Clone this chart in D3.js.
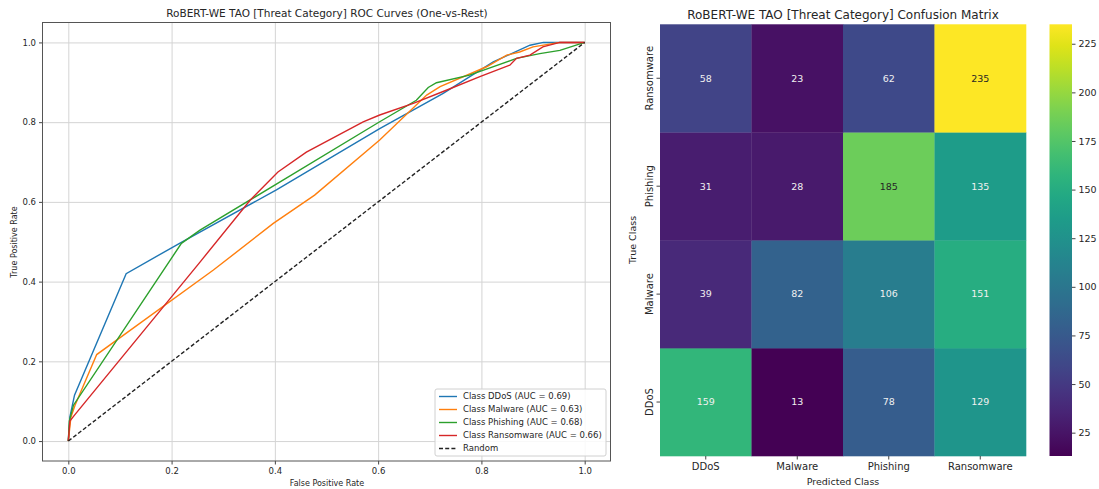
<!DOCTYPE html>
<html>
<head>
<meta charset="utf-8">
<script src="https://cdn.jsdelivr.net/npm/d3@7"></script>
<style>
  body { margin: 0; background: #fff; }
  text { font-family: "DejaVu Sans", sans-serif; fill: #262626; }
</style>
</head>
<body>
<div id="chart"></div>
<script>
// ROC curve points
var ddosFpr = [0, 0.003, 0.012, 0.112, 0.218, 0.403, 0.603, 0.726, 0.823, 0.894, 0.92, 1.0];
var ddosTpr = [0, 0.06, 0.115, 0.42, 0.498, 0.63, 0.784, 0.872, 0.951, 0.993, 1.0, 1.0];

var malwareFpr = [0, 0.005, 0.013, 0.055, 0.281, 0.397, 0.477, 0.603, 0.694, 0.72, 0.81, 0.849, 0.874, 0.9, 0.952, 1.0];
var malwareTpr = [0, 0.06, 0.09, 0.217, 0.429, 0.546, 0.617, 0.755, 0.868, 0.889, 0.939, 0.968, 0.976, 0.989, 1.0, 1.0];

var phishingFpr = [0, 0.002, 0.01, 0.219, 0.255, 0.603, 0.674, 0.697, 0.713, 0.777, 0.868, 0.913, 0.952, 1.0];
var phishingTpr = [0, 0.05, 0.09, 0.496, 0.529, 0.801, 0.855, 0.887, 0.899, 0.918, 0.96, 0.972, 0.98, 1.0];

var ransomFpr = [0, 0.003, 0.012, 0.255, 0.352, 0.406, 0.461, 0.571, 0.603, 0.668, 0.732, 0.797, 0.855, 0.868, 0.894, 0.919, 0.952, 1.0];
var ransomTpr = [0, 0.05, 0.065, 0.449, 0.604, 0.675, 0.725, 0.801, 0.818, 0.847, 0.88, 0.914, 0.943, 0.96, 0.968, 0.989, 1.0, 1.0];

var rocNames = ["DDoS", "Malware", "Phishing", "Ransomware"];
var rocAuc = ["0.69", "0.63", "0.68", "0.66"];
var rocColors = ["#1f77b4", "#ff7f0e", "#2ca02c", "#d62728"];
var rocTicks = [0, 0.2, 0.4, 0.6, 0.8, 1.0];

// confusion matrix, rows = true class, cols = predicted class
var classes = ["DDoS", "Malware", "Phishing", "Ransomware"];
var matrix = [
  [159, 13, 78, 129],
  [39, 82, 106, 151],
  [31, 28, 185, 135],
  [58, 23, 62, 235]
];
var cbarTicks = [25, 50, 75, 100, 125, 150, 175, 200, 225];

var svg = d3.select("#chart").append("svg")
  .attr("width", 1099)
  .attr("height", 489);

// ---------- left: ROC curves ----------
var x = d3.scaleLinear().domain([-0.05, 1.05]).range([42.5, 610.5]);
var y = d3.scaleLinear().domain([-0.05, 1.05]).range([461, 22.5]);

var roc = svg.append("g");

// grid
roc.append("g")
  .attr("transform", "translate(0,461)")
  .call(d3.axisBottom(x).tickValues(rocTicks).tickSize(-438.5).tickFormat(""))
  .call(function(g) { g.select(".domain").remove(); g.selectAll("line").attr("stroke", "#d4d4d4"); });
roc.append("g")
  .attr("transform", "translate(42.5,0)")
  .call(d3.axisLeft(y).tickValues(rocTicks).tickSize(-568).tickFormat(""))
  .call(function(g) { g.select(".domain").remove(); g.selectAll("line").attr("stroke", "#d4d4d4"); });

// axes
var xAx = roc.append("g")
  .attr("transform", "translate(0,461)")
  .call(d3.axisBottom(x).tickValues(rocTicks).tickSize(3.5).tickPadding(3).tickSizeOuter(0).tickFormat(d3.format(".1f")));
var yAx = roc.append("g")
  .attr("transform", "translate(42.5,0)")
  .call(d3.axisLeft(y).tickValues(rocTicks).tickSize(3.5).tickPadding(3).tickSizeOuter(0).tickFormat(d3.format(".1f")));
[xAx, yAx].forEach(function(a) {
  a.selectAll("text").style("font-size", "8.5px").style("font-family", "DejaVu Sans").attr("fill", "#262626");
  a.selectAll("line").attr("stroke", "#444");
  a.select(".domain").remove();
});

roc.append("rect")
  .attr("x", 42.5).attr("y", 22.5).attr("width", 568).attr("height", 438.5)
  .attr("fill", "none").attr("stroke", "#555").attr("stroke-width", 1);

var line = d3.line()
  .x(function(d) { return x(d[0]); })
  .y(function(d) { return y(d[1]); });

var rocSeries = [
  d3.zip(ddosFpr, ddosTpr),
  d3.zip(malwareFpr, malwareTpr),
  d3.zip(phishingFpr, phishingTpr),
  d3.zip(ransomFpr, ransomTpr)
];

rocSeries.forEach(function(s, i) {
  roc.append("path")
    .datum(s)
    .attr("fill", "none")
    .attr("stroke", rocColors[i])
    .attr("stroke-width", 1.4)
    .attr("d", line);
});

roc.append("path")
  .datum([[0, 0], [1, 1]])
  .attr("fill", "none")
  .attr("stroke", "#222")
  .attr("stroke-width", 1.4)
  .attr("stroke-dasharray", "4,2.2")
  .attr("d", line);

roc.append("text")
  .attr("x", 327).attr("y", 17)
  .attr("text-anchor", "middle")
  .style("font-size", "10.5px")
  .text("RoBERT-WE TAO [Threat Category] ROC Curves (One-vs-Rest)");

roc.append("text")
  .attr("x", 327).attr("y", 486)
  .attr("text-anchor", "middle")
  .style("font-size", "8px")
  .text("False Positive Rate");

roc.append("text")
  .attr("transform", "translate(17,242) rotate(-90)")
  .attr("text-anchor", "middle")
  .style("font-size", "8px")
  .text("True Positive Rate");

// legend
var leg = roc.append("g").attr("transform", "translate(435,389)");
leg.append("rect")
  .attr("width", 171).attr("height", 67).attr("rx", 2)
  .attr("fill", "#fff").attr("fill-opacity", 0.85)
  .attr("stroke", "#d0d0d0");
var legItems = rocNames.map(function(n, i) {
  return { label: "Class " + n + " (AUC = " + rocAuc[i] + ")", color: rocColors[i], dash: null };
});
legItems.push({ label: "Random", color: "#222", dash: "4,2.2" });
legItems.forEach(function(it, i) {
  var yy = 7.5 + i * 13;
  leg.append("line")
    .attr("x1", 4).attr("x2", 22).attr("y1", yy).attr("y2", yy)
    .attr("stroke", it.color).attr("stroke-width", 1.4)
    .attr("stroke-dasharray", it.dash);
  leg.append("text")
    .attr("x", 28).attr("y", yy).attr("dy", "0.35em")
    .style("font-size", "8.5px")
    .text(it.label);
});

// ---------- right: confusion matrix ----------
var hm = svg.append("g");
var cx = d3.scaleBand().domain(classes).range([660, 1026]);
var cy = d3.scaleBand().domain(classes.slice().reverse()).range([24.3, 456]);
var color = d3.scaleSequential(d3.interpolateViridis).domain([13, 235]);

function textColor(c) {
  var rgb = d3.rgb(c);
  var lin = [rgb.r, rgb.g, rgb.b].map(function(v) {
    v = v / 255;
    return v <= 0.03928 ? v / 12.92 : Math.pow((v + 0.055) / 1.055, 2.4);
  });
  var lum = 0.2126 * lin[0] + 0.7152 * lin[1] + 0.0722 * lin[2];
  return lum > 0.408 ? "#262626" : "#f0f0f0";
}

var cells = [];
matrix.forEach(function(row, i) {
  row.forEach(function(v, j) {
    cells.push({ t: classes[i], p: classes[j], v: v });
  });
});

hm.selectAll("rect.cell")
  .data(cells)
  .enter().append("rect")
  .attr("class", "cell")
  .attr("x", function(d) { return cx(d.p); })
  .attr("y", function(d) { return cy(d.t); })
  .attr("width", cx.bandwidth() + 0.3)
  .attr("height", cy.bandwidth() + 0.3)
  .attr("fill", function(d) { return color(d.v); });

hm.selectAll("text.val")
  .data(cells)
  .enter().append("text")
  .attr("class", "val")
  .attr("x", function(d) { return cx(d.p) + cx.bandwidth() / 2; })
  .attr("y", function(d) { return cy(d.t) + cy.bandwidth() / 2; })
  .attr("dy", "0.35em")
  .attr("text-anchor", "middle")
  .style("font-size", "9.5px")
  .style("fill", function(d) { return textColor(color(d.v)); })
  .text(function(d) { return d.v; });

var hx = hm.append("g")
  .attr("transform", "translate(0,456)")
  .call(d3.axisBottom(cx).tickSize(3.5).tickPadding(3));
hx.select(".domain").remove();
hx.selectAll("text").style("font-size", "10px").style("font-family", "DejaVu Sans").attr("fill", "#262626");
hx.selectAll("line").attr("stroke", "#444");

var hy = hm.append("g")
  .attr("transform", "translate(660,0)")
  .call(d3.axisLeft(cy).tickSize(3.5).tickFormat(""));
hy.select(".domain").remove();
hy.selectAll("line").attr("stroke", "#444");
hm.selectAll("text.rowlab")
  .data(classes)
  .enter().append("text")
  .attr("class", "rowlab")
  .attr("transform", function(d) {
    return "translate(653," + (cy(d) + cy.bandwidth() / 2) + ") rotate(-90)";
  })
  .attr("text-anchor", "middle")
  .style("font-size", "10px")
  .text(function(d) { return d; });

hm.append("text")
  .attr("x", 843).attr("y", 19)
  .attr("text-anchor", "middle")
  .style("font-size", "12px")
  .text("RoBERT-WE TAO [Threat Category] Confusion Matrix");

hm.append("text")
  .attr("x", 843).attr("y", 485)
  .attr("text-anchor", "middle")
  .style("font-size", "9.5px")
  .text("Predicted Class");

hm.append("text")
  .attr("transform", "translate(636,240) rotate(-90)")
  .attr("text-anchor", "middle")
  .style("font-size", "9.5px")
  .text("True Class");

// colorbar
var defs = svg.append("defs");
var grad = defs.append("linearGradient")
  .attr("id", "viridis")
  .attr("x1", 0).attr("y1", 1).attr("x2", 0).attr("y2", 0);
d3.range(0, 1.0001, 0.05).forEach(function(t) {
  grad.append("stop")
    .attr("offset", t)
    .attr("stop-color", d3.interpolateViridis(t));
});
var cb = d3.scaleLinear().domain([13, 235]).range([456, 24.3]);
hm.append("rect")
  .attr("x", 1049.5).attr("y", 24.3)
  .attr("width", 22.5).attr("height", 431.7)
  .attr("fill", "url(#viridis)");
var cbAx = hm.append("g")
  .attr("transform", "translate(1072,0)")
  .call(d3.axisRight(cb).tickValues(cbarTicks).tickSize(3.5).tickPadding(3));
cbAx.select(".domain").remove();
cbAx.selectAll("text").style("font-size", "9.5px").style("font-family", "DejaVu Sans").attr("fill", "#262626");
cbAx.selectAll("line").attr("stroke", "#444");
</script>
</body>
</html>
